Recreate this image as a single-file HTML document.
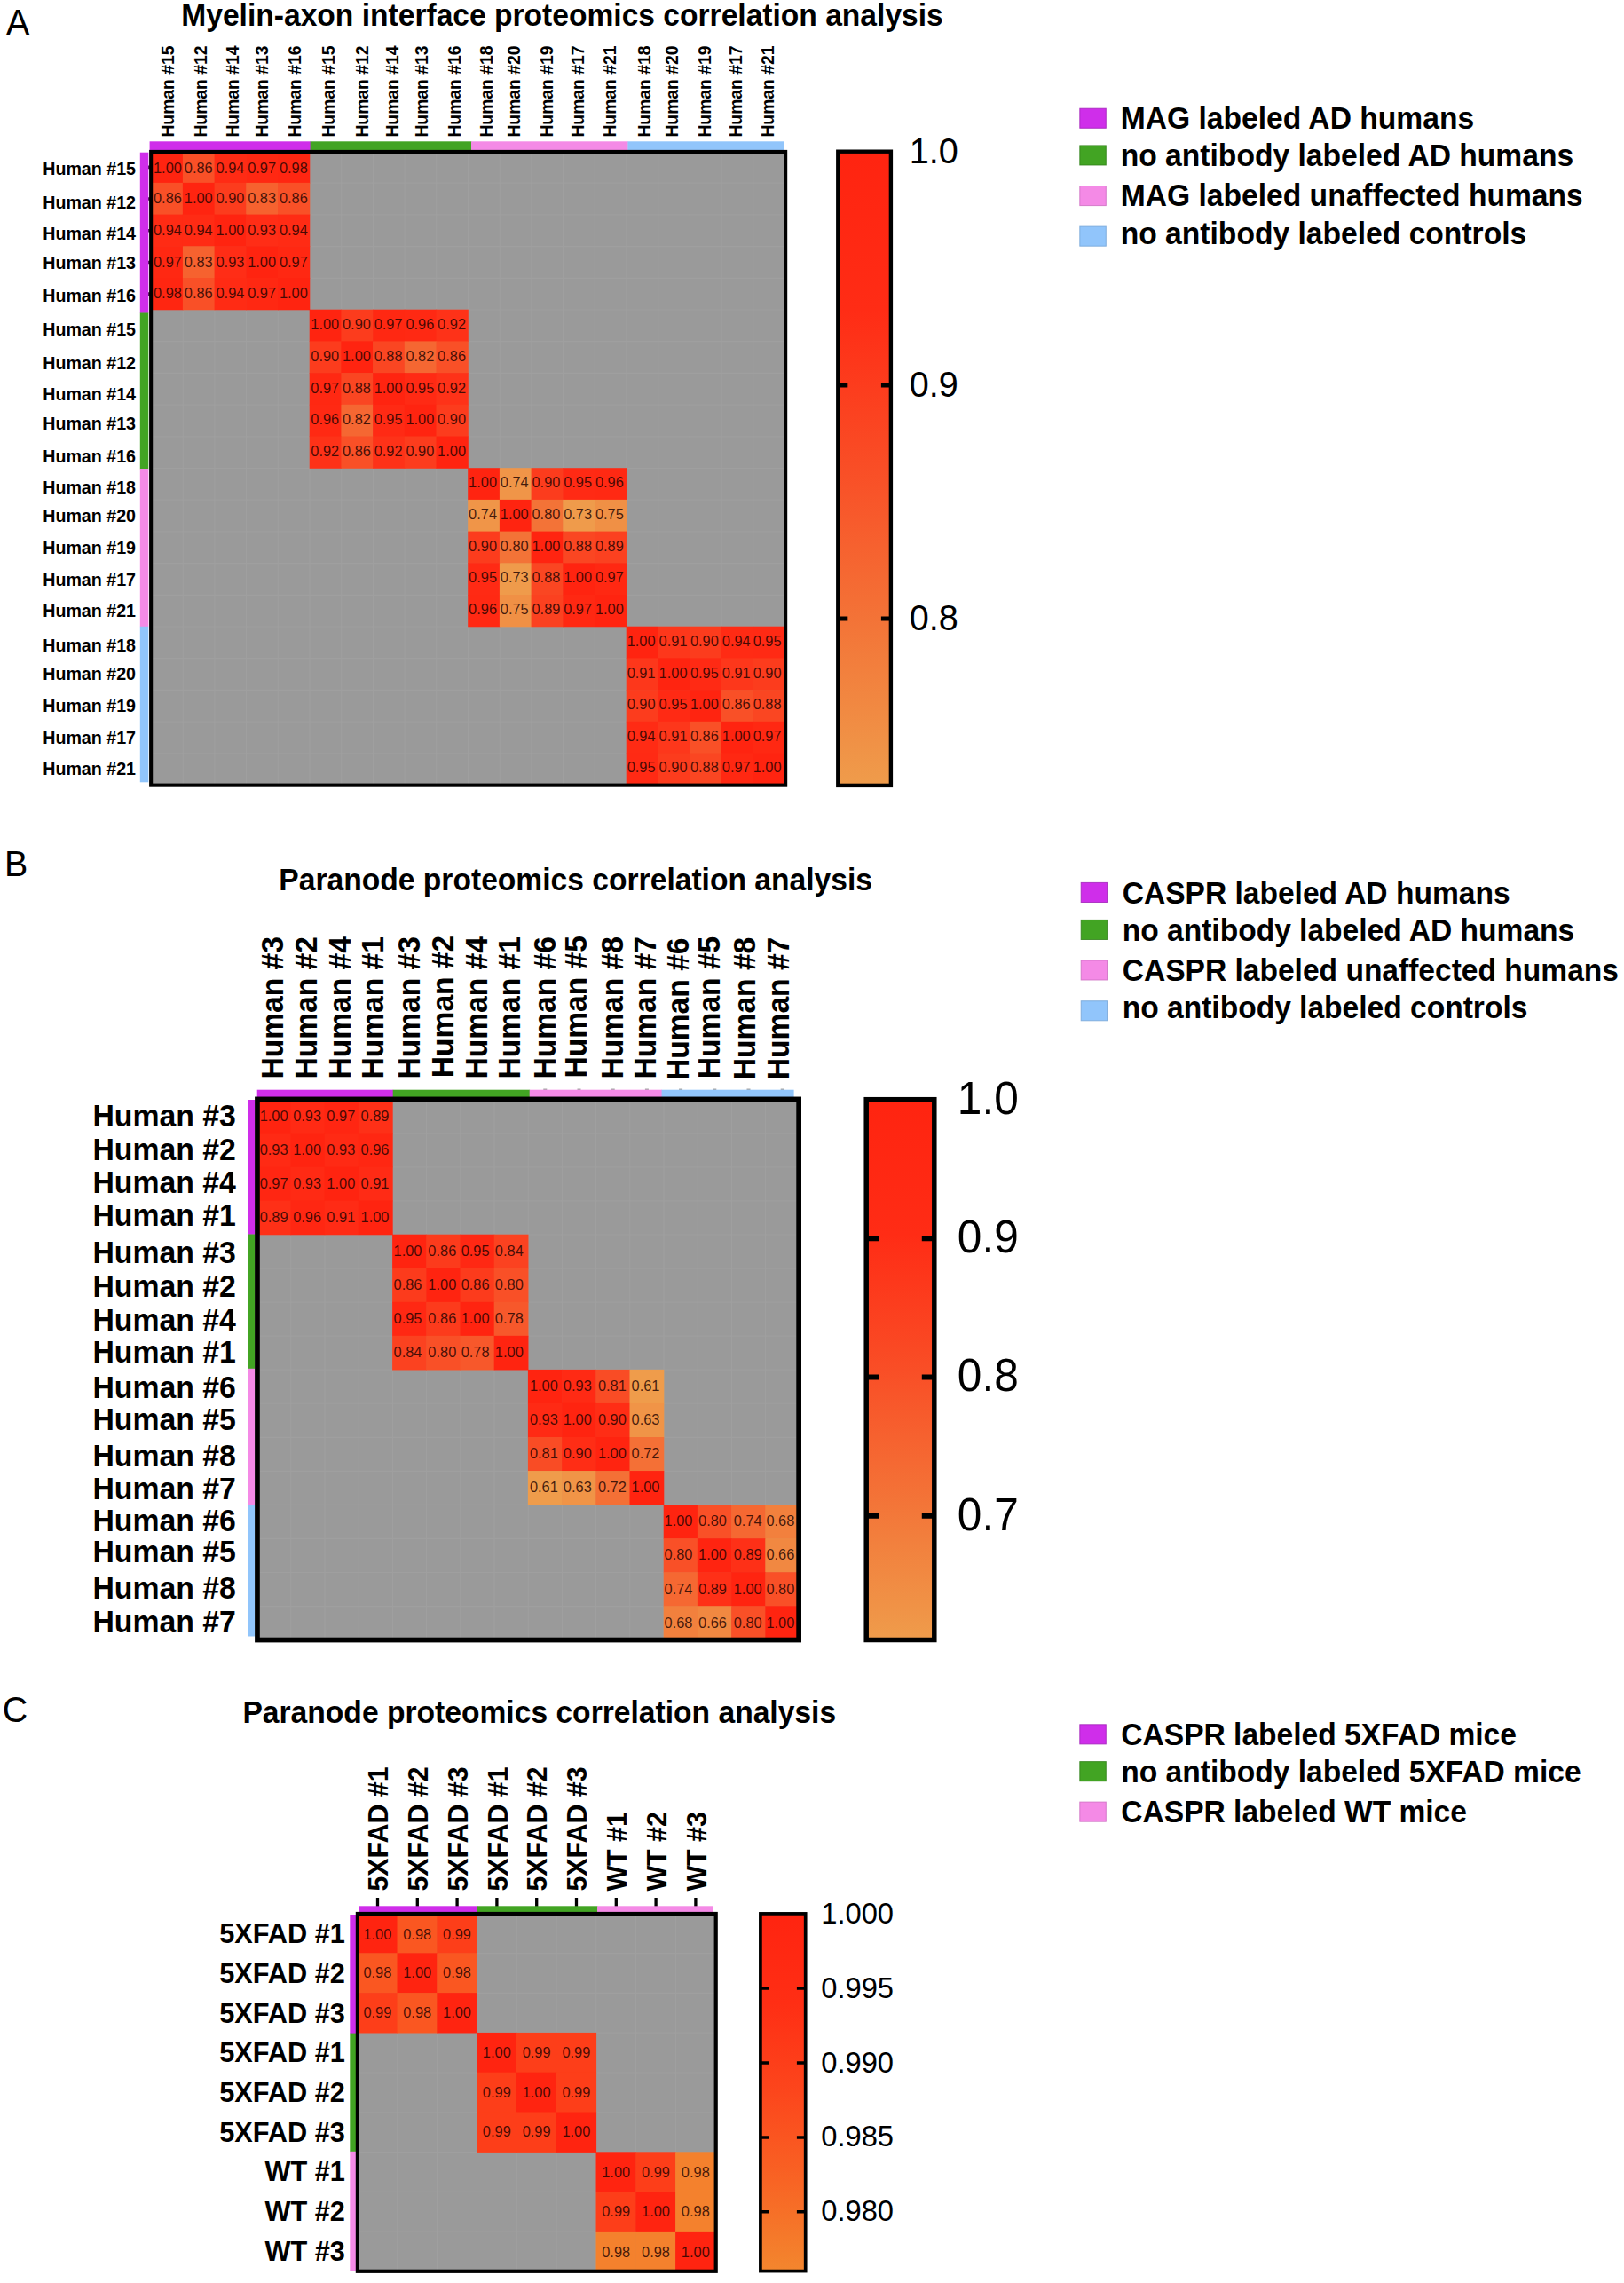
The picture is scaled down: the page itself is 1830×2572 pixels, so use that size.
<!DOCTYPE html>
<html lang="en"><head><meta charset="utf-8"><title>Proteomics correlation analysis</title>
<style>html,body{margin:0;padding:0;background:#fff}svg{display:block}text{white-space:pre}</style></head>
<body>
<svg width="1830" height="2572" viewBox="0 0 1830 2572" font-family="'Liberation Sans', sans-serif">
<rect width="1830" height="2572" fill="#fff"/>
<text transform="translate(7 39) scale(1 1.0377)" font-size="39.4">A</text>
<text transform="translate(204.3 29.2) scale(1 1.0377)" font-size="33.59" font-weight="bold">Myelin-axon interface proteomics correlation analysis</text>
<g font-size="19.35" font-weight="bold">
<text transform="translate(195.8 154.6) rotate(-90) scale(1 1.0377)">Human #15</text>
<text transform="translate(233.4 154.6) rotate(-90) scale(1 1.0377)">Human #12</text>
<text transform="translate(268.7 154.6) rotate(-90) scale(1 1.0377)">Human #14</text>
<text transform="translate(301.7 154.6) rotate(-90) scale(1 1.0377)">Human #13</text>
<text transform="translate(339.3 154.6) rotate(-90) scale(1 1.0377)">Human #16</text>
<text transform="translate(376.9 154.6) rotate(-90) scale(1 1.0377)">Human #15</text>
<text transform="translate(414.5 154.6) rotate(-90) scale(1 1.0377)">Human #12</text>
<text transform="translate(448.7 154.6) rotate(-90) scale(1 1.0377)">Human #14</text>
<text transform="translate(481.7 154.6) rotate(-90) scale(1 1.0377)">Human #13</text>
<text transform="translate(518.8 154.6) rotate(-90) scale(1 1.0377)">Human #16</text>
<text transform="translate(554.6 154.6) rotate(-90) scale(1 1.0377)">Human #18</text>
<text transform="translate(586.1 154.6) rotate(-90) scale(1 1.0377)">Human #20</text>
<text transform="translate(622.5 154.6) rotate(-90) scale(1 1.0377)">Human #19</text>
<text transform="translate(658.3 154.6) rotate(-90) scale(1 1.0377)">Human #17</text>
<text transform="translate(693.6 154.6) rotate(-90) scale(1 1.0377)">Human #21</text>
<text transform="translate(732.8 154.6) rotate(-90) scale(1 1.0377)">Human #18</text>
<text transform="translate(764.2 154.6) rotate(-90) scale(1 1.0377)">Human #20</text>
<text transform="translate(800.7 154.6) rotate(-90) scale(1 1.0377)">Human #19</text>
<text transform="translate(836 154.6) rotate(-90) scale(1 1.0377)">Human #17</text>
<text transform="translate(871.8 154.6) rotate(-90) scale(1 1.0377)">Human #21</text>
<text transform="translate(153 197) scale(1 1.0377)" font-size="19.65" text-anchor="end">Human #15</text>
<text transform="translate(153 234.5) scale(1 1.0377)" font-size="19.65" text-anchor="end">Human #12</text>
<text transform="translate(153 270.3) scale(1 1.0377)" font-size="19.65" text-anchor="end">Human #14</text>
<text transform="translate(153 303.1) scale(1 1.0377)" font-size="19.65" text-anchor="end">Human #13</text>
<text transform="translate(153 340.3) scale(1 1.0377)" font-size="19.65" text-anchor="end">Human #16</text>
<text transform="translate(153 378.1) scale(1 1.0377)" font-size="19.65" text-anchor="end">Human #15</text>
<text transform="translate(153 416.1) scale(1 1.0377)" font-size="19.65" text-anchor="end">Human #12</text>
<text transform="translate(153 451.1) scale(1 1.0377)" font-size="19.65" text-anchor="end">Human #14</text>
<text transform="translate(153 484) scale(1 1.0377)" font-size="19.65" text-anchor="end">Human #13</text>
<text transform="translate(153 521.1) scale(1 1.0377)" font-size="19.65" text-anchor="end">Human #16</text>
<text transform="translate(153 555.8) scale(1 1.0377)" font-size="19.65" text-anchor="end">Human #18</text>
<text transform="translate(153 587.8) scale(1 1.0377)" font-size="19.65" text-anchor="end">Human #20</text>
<text transform="translate(153 624) scale(1 1.0377)" font-size="19.65" text-anchor="end">Human #19</text>
<text transform="translate(153 660) scale(1 1.0377)" font-size="19.65" text-anchor="end">Human #17</text>
<text transform="translate(153 695.3) scale(1 1.0377)" font-size="19.65" text-anchor="end">Human #21</text>
<text transform="translate(153 734.1) scale(1 1.0377)" font-size="19.65" text-anchor="end">Human #18</text>
<text transform="translate(153 766.1) scale(1 1.0377)" font-size="19.65" text-anchor="end">Human #20</text>
<text transform="translate(153 802.3) scale(1 1.0377)" font-size="19.65" text-anchor="end">Human #19</text>
<text transform="translate(153 837.8) scale(1 1.0377)" font-size="19.65" text-anchor="end">Human #17</text>
<text transform="translate(153 873.1) scale(1 1.0377)" font-size="19.65" text-anchor="end">Human #21</text>
</g>
<path d="M167 188.35h1.6M167 224.05h1.6M167 259.75h1.6M167 295.45h1.6M167 331.15h1.6" stroke="#2a0a30" stroke-width="3.6" fill="none"/>
<rect x="170.5" y="170.5" width="714" height="714" fill="#9a9a9a"/>
<path d="M206.2 170.5V884.5M170.5 206.2H884.5M241.9 170.5V884.5M170.5 241.9H884.5M277.6 170.5V884.5M170.5 277.6H884.5M313.3 170.5V884.5M170.5 313.3H884.5M349 170.5V884.5M170.5 349H884.5M384.7 170.5V884.5M170.5 384.7H884.5M420.4 170.5V884.5M170.5 420.4H884.5M456.1 170.5V884.5M170.5 456.1H884.5M491.8 170.5V884.5M170.5 491.8H884.5M527.5 170.5V884.5M170.5 527.5H884.5M563.2 170.5V884.5M170.5 563.2H884.5M598.9 170.5V884.5M170.5 598.9H884.5M634.6 170.5V884.5M170.5 634.6H884.5M670.3 170.5V884.5M170.5 670.3H884.5M706 170.5V884.5M170.5 706H884.5M741.7 170.5V884.5M170.5 741.7H884.5M777.4 170.5V884.5M170.5 777.4H884.5M813.1 170.5V884.5M170.5 813.1H884.5M848.8 170.5V884.5M170.5 848.8H884.5" stroke="#fff" stroke-opacity=".055" stroke-width="1.2" fill="none"/>
<rect x="170.2" y="170.2" width="36.3" height="36.3" fill="#ff2410"/>
<rect x="205.9" y="170.2" width="36.3" height="36.3" fill="#f95027"/>
<rect x="241.6" y="170.2" width="36.3" height="36.3" fill="#ff2b14"/>
<rect x="277.3" y="170.2" width="36.3" height="36.3" fill="#ff2812"/>
<rect x="313" y="170.2" width="36.3" height="36.3" fill="#ff2611"/>
<rect x="170.2" y="205.9" width="36.3" height="36.3" fill="#f95027"/>
<rect x="205.9" y="205.9" width="36.3" height="36.3" fill="#ff2410"/>
<rect x="241.6" y="205.9" width="36.3" height="36.3" fill="#fc3c1d"/>
<rect x="277.3" y="205.9" width="36.3" height="36.3" fill="#f6622f"/>
<rect x="313" y="205.9" width="36.3" height="36.3" fill="#f95027"/>
<rect x="170.2" y="241.6" width="36.3" height="36.3" fill="#ff2b14"/>
<rect x="205.9" y="241.6" width="36.3" height="36.3" fill="#ff2b14"/>
<rect x="241.6" y="241.6" width="36.3" height="36.3" fill="#ff2410"/>
<rect x="277.3" y="241.6" width="36.3" height="36.3" fill="#ff2d16"/>
<rect x="313" y="241.6" width="36.3" height="36.3" fill="#ff2b14"/>
<rect x="170.2" y="277.3" width="36.3" height="36.3" fill="#ff2812"/>
<rect x="205.9" y="277.3" width="36.3" height="36.3" fill="#f6622f"/>
<rect x="241.6" y="277.3" width="36.3" height="36.3" fill="#ff2d16"/>
<rect x="277.3" y="277.3" width="36.3" height="36.3" fill="#ff2410"/>
<rect x="313" y="277.3" width="36.3" height="36.3" fill="#ff2812"/>
<rect x="170.2" y="313" width="36.3" height="36.3" fill="#ff2611"/>
<rect x="205.9" y="313" width="36.3" height="36.3" fill="#f95027"/>
<rect x="241.6" y="313" width="36.3" height="36.3" fill="#ff2b14"/>
<rect x="277.3" y="313" width="36.3" height="36.3" fill="#ff2812"/>
<rect x="313" y="313" width="36.3" height="36.3" fill="#ff2410"/>
<rect x="348.7" y="348.7" width="36.3" height="36.3" fill="#ff2410"/>
<rect x="384.4" y="348.7" width="36.3" height="36.3" fill="#fc3c1d"/>
<rect x="420.1" y="348.7" width="36.3" height="36.3" fill="#ff2812"/>
<rect x="455.8" y="348.7" width="36.3" height="36.3" fill="#ff2913"/>
<rect x="491.5" y="348.7" width="36.3" height="36.3" fill="#fe3218"/>
<rect x="348.7" y="384.4" width="36.3" height="36.3" fill="#fc3c1d"/>
<rect x="384.4" y="384.4" width="36.3" height="36.3" fill="#ff2410"/>
<rect x="420.1" y="384.4" width="36.3" height="36.3" fill="#fa4622"/>
<rect x="455.8" y="384.4" width="36.3" height="36.3" fill="#f56732"/>
<rect x="491.5" y="384.4" width="36.3" height="36.3" fill="#f95027"/>
<rect x="348.7" y="420.1" width="36.3" height="36.3" fill="#ff2812"/>
<rect x="384.4" y="420.1" width="36.3" height="36.3" fill="#fa4622"/>
<rect x="420.1" y="420.1" width="36.3" height="36.3" fill="#ff2410"/>
<rect x="455.8" y="420.1" width="36.3" height="36.3" fill="#ff2a14"/>
<rect x="491.5" y="420.1" width="36.3" height="36.3" fill="#fe3218"/>
<rect x="348.7" y="455.8" width="36.3" height="36.3" fill="#ff2913"/>
<rect x="384.4" y="455.8" width="36.3" height="36.3" fill="#f56732"/>
<rect x="420.1" y="455.8" width="36.3" height="36.3" fill="#ff2a14"/>
<rect x="455.8" y="455.8" width="36.3" height="36.3" fill="#ff2410"/>
<rect x="491.5" y="455.8" width="36.3" height="36.3" fill="#fc3c1d"/>
<rect x="348.7" y="491.5" width="36.3" height="36.3" fill="#fe3218"/>
<rect x="384.4" y="491.5" width="36.3" height="36.3" fill="#f95027"/>
<rect x="420.1" y="491.5" width="36.3" height="36.3" fill="#fe3218"/>
<rect x="455.8" y="491.5" width="36.3" height="36.3" fill="#fc3c1d"/>
<rect x="491.5" y="491.5" width="36.3" height="36.3" fill="#ff2410"/>
<rect x="527.2" y="527.2" width="36.3" height="36.3" fill="#ff2410"/>
<rect x="562.9" y="527.2" width="36.3" height="36.3" fill="#f09548"/>
<rect x="598.6" y="527.2" width="36.3" height="36.3" fill="#fc3c1d"/>
<rect x="634.3" y="527.2" width="36.3" height="36.3" fill="#ff2a14"/>
<rect x="670" y="527.2" width="36.3" height="36.3" fill="#ff2913"/>
<rect x="527.2" y="562.9" width="36.3" height="36.3" fill="#f09548"/>
<rect x="562.9" y="562.9" width="36.3" height="36.3" fill="#ff2410"/>
<rect x="598.6" y="562.9" width="36.3" height="36.3" fill="#f37337"/>
<rect x="634.3" y="562.9" width="36.3" height="36.3" fill="#ef9b4b"/>
<rect x="670" y="562.9" width="36.3" height="36.3" fill="#f09045"/>
<rect x="527.2" y="598.6" width="36.3" height="36.3" fill="#fc3c1d"/>
<rect x="562.9" y="598.6" width="36.3" height="36.3" fill="#f37337"/>
<rect x="598.6" y="598.6" width="36.3" height="36.3" fill="#ff2410"/>
<rect x="634.3" y="598.6" width="36.3" height="36.3" fill="#fa4622"/>
<rect x="670" y="598.6" width="36.3" height="36.3" fill="#fb4120"/>
<rect x="527.2" y="634.3" width="36.3" height="36.3" fill="#ff2a14"/>
<rect x="562.9" y="634.3" width="36.3" height="36.3" fill="#ef9b4b"/>
<rect x="598.6" y="634.3" width="36.3" height="36.3" fill="#fa4622"/>
<rect x="634.3" y="634.3" width="36.3" height="36.3" fill="#ff2410"/>
<rect x="670" y="634.3" width="36.3" height="36.3" fill="#ff2812"/>
<rect x="527.2" y="670" width="36.3" height="36.3" fill="#ff2913"/>
<rect x="562.9" y="670" width="36.3" height="36.3" fill="#f09045"/>
<rect x="598.6" y="670" width="36.3" height="36.3" fill="#fb4120"/>
<rect x="634.3" y="670" width="36.3" height="36.3" fill="#ff2812"/>
<rect x="670" y="670" width="36.3" height="36.3" fill="#ff2410"/>
<rect x="705.7" y="705.7" width="36.3" height="36.3" fill="#ff2410"/>
<rect x="741.4" y="705.7" width="36.3" height="36.3" fill="#fd371b"/>
<rect x="777.1" y="705.7" width="36.3" height="36.3" fill="#fc3c1d"/>
<rect x="812.8" y="705.7" width="36.3" height="36.3" fill="#ff2b14"/>
<rect x="848.5" y="705.7" width="36.3" height="36.3" fill="#ff2a14"/>
<rect x="705.7" y="741.4" width="36.3" height="36.3" fill="#fd371b"/>
<rect x="741.4" y="741.4" width="36.3" height="36.3" fill="#ff2410"/>
<rect x="777.1" y="741.4" width="36.3" height="36.3" fill="#ff2a14"/>
<rect x="812.8" y="741.4" width="36.3" height="36.3" fill="#fd371b"/>
<rect x="848.5" y="741.4" width="36.3" height="36.3" fill="#fc3c1d"/>
<rect x="705.7" y="777.1" width="36.3" height="36.3" fill="#fc3c1d"/>
<rect x="741.4" y="777.1" width="36.3" height="36.3" fill="#ff2a14"/>
<rect x="777.1" y="777.1" width="36.3" height="36.3" fill="#ff2410"/>
<rect x="812.8" y="777.1" width="36.3" height="36.3" fill="#f95027"/>
<rect x="848.5" y="777.1" width="36.3" height="36.3" fill="#fa4622"/>
<rect x="705.7" y="812.8" width="36.3" height="36.3" fill="#ff2b14"/>
<rect x="741.4" y="812.8" width="36.3" height="36.3" fill="#fd371b"/>
<rect x="777.1" y="812.8" width="36.3" height="36.3" fill="#f95027"/>
<rect x="812.8" y="812.8" width="36.3" height="36.3" fill="#ff2410"/>
<rect x="848.5" y="812.8" width="36.3" height="36.3" fill="#ff2812"/>
<rect x="705.7" y="848.5" width="36.3" height="36.3" fill="#ff2a14"/>
<rect x="741.4" y="848.5" width="36.3" height="36.3" fill="#fc3c1d"/>
<rect x="777.1" y="848.5" width="36.3" height="36.3" fill="#fa4622"/>
<rect x="812.8" y="848.5" width="36.3" height="36.3" fill="#ff2812"/>
<rect x="848.5" y="848.5" width="36.3" height="36.3" fill="#ff2410"/>
<g font-size="16.4" fill="#1c0200" fill-opacity=".82" text-anchor="middle">
<text transform="translate(188.95 195.35) scale(1 1.0377)">1.00</text>
<text transform="translate(223.75 195.35) scale(1 1.0377)">0.86</text>
<text transform="translate(259.45 195.35) scale(1 1.0377)">0.94</text>
<text transform="translate(295.15 195.35) scale(1 1.0377)">0.97</text>
<text transform="translate(330.85 195.35) scale(1 1.0377)">0.98</text>
<text transform="translate(188.95 229.05) scale(1 1.0377)">0.86</text>
<text transform="translate(223.75 229.05) scale(1 1.0377)">1.00</text>
<text transform="translate(259.45 229.05) scale(1 1.0377)">0.90</text>
<text transform="translate(295.15 229.05) scale(1 1.0377)">0.83</text>
<text transform="translate(330.85 229.05) scale(1 1.0377)">0.86</text>
<text transform="translate(188.95 264.75) scale(1 1.0377)">0.94</text>
<text transform="translate(223.75 264.75) scale(1 1.0377)">0.94</text>
<text transform="translate(259.45 264.75) scale(1 1.0377)">1.00</text>
<text transform="translate(295.15 264.75) scale(1 1.0377)">0.93</text>
<text transform="translate(330.85 264.75) scale(1 1.0377)">0.94</text>
<text transform="translate(188.95 300.55) scale(1 1.0377)">0.97</text>
<text transform="translate(223.75 300.55) scale(1 1.0377)">0.83</text>
<text transform="translate(259.45 300.55) scale(1 1.0377)">0.93</text>
<text transform="translate(295.15 300.55) scale(1 1.0377)">1.00</text>
<text transform="translate(330.85 300.55) scale(1 1.0377)">0.97</text>
<text transform="translate(188.95 336.35) scale(1 1.0377)">0.98</text>
<text transform="translate(223.75 336.35) scale(1 1.0377)">0.86</text>
<text transform="translate(259.45 336.35) scale(1 1.0377)">0.94</text>
<text transform="translate(295.15 336.35) scale(1 1.0377)">0.97</text>
<text transform="translate(330.85 336.35) scale(1 1.0377)">1.00</text>
<text transform="translate(366.25 371.45) scale(1 1.0377)">1.00</text>
<text transform="translate(401.95 371.45) scale(1 1.0377)">0.90</text>
<text transform="translate(437.65 371.45) scale(1 1.0377)">0.97</text>
<text transform="translate(473.35 371.45) scale(1 1.0377)">0.96</text>
<text transform="translate(509.05 371.45) scale(1 1.0377)">0.92</text>
<text transform="translate(366.25 407.05) scale(1 1.0377)">0.90</text>
<text transform="translate(401.95 407.05) scale(1 1.0377)">1.00</text>
<text transform="translate(437.65 407.05) scale(1 1.0377)">0.88</text>
<text transform="translate(473.35 407.05) scale(1 1.0377)">0.82</text>
<text transform="translate(509.05 407.05) scale(1 1.0377)">0.86</text>
<text transform="translate(366.25 442.75) scale(1 1.0377)">0.97</text>
<text transform="translate(401.95 442.75) scale(1 1.0377)">0.88</text>
<text transform="translate(437.65 442.75) scale(1 1.0377)">1.00</text>
<text transform="translate(473.35 442.75) scale(1 1.0377)">0.95</text>
<text transform="translate(509.05 442.75) scale(1 1.0377)">0.92</text>
<text transform="translate(366.25 478.45) scale(1 1.0377)">0.96</text>
<text transform="translate(401.95 478.45) scale(1 1.0377)">0.82</text>
<text transform="translate(437.65 478.45) scale(1 1.0377)">0.95</text>
<text transform="translate(473.35 478.45) scale(1 1.0377)">1.00</text>
<text transform="translate(509.05 478.45) scale(1 1.0377)">0.90</text>
<text transform="translate(366.25 514.25) scale(1 1.0377)">0.92</text>
<text transform="translate(401.95 514.25) scale(1 1.0377)">0.86</text>
<text transform="translate(437.65 514.25) scale(1 1.0377)">0.92</text>
<text transform="translate(473.35 514.25) scale(1 1.0377)">0.90</text>
<text transform="translate(509.05 514.25) scale(1 1.0377)">1.00</text>
<text transform="translate(544.05 549.45) scale(1 1.0377)">1.00</text>
<text transform="translate(579.75 549.45) scale(1 1.0377)">0.74</text>
<text transform="translate(615.45 549.45) scale(1 1.0377)">0.90</text>
<text transform="translate(651.15 549.45) scale(1 1.0377)">0.95</text>
<text transform="translate(686.85 549.45) scale(1 1.0377)">0.96</text>
<text transform="translate(544.05 585.15) scale(1 1.0377)">0.74</text>
<text transform="translate(579.75 585.15) scale(1 1.0377)">1.00</text>
<text transform="translate(615.45 585.15) scale(1 1.0377)">0.80</text>
<text transform="translate(651.15 585.15) scale(1 1.0377)">0.73</text>
<text transform="translate(686.85 585.15) scale(1 1.0377)">0.75</text>
<text transform="translate(544.05 620.75) scale(1 1.0377)">0.90</text>
<text transform="translate(579.75 620.75) scale(1 1.0377)">0.80</text>
<text transform="translate(615.45 620.75) scale(1 1.0377)">1.00</text>
<text transform="translate(651.15 620.75) scale(1 1.0377)">0.88</text>
<text transform="translate(686.85 620.75) scale(1 1.0377)">0.89</text>
<text transform="translate(544.05 656.35) scale(1 1.0377)">0.95</text>
<text transform="translate(579.75 656.35) scale(1 1.0377)">0.73</text>
<text transform="translate(615.45 656.35) scale(1 1.0377)">0.88</text>
<text transform="translate(651.15 656.35) scale(1 1.0377)">1.00</text>
<text transform="translate(686.85 656.35) scale(1 1.0377)">0.97</text>
<text transform="translate(544.05 692.15) scale(1 1.0377)">0.96</text>
<text transform="translate(579.75 692.15) scale(1 1.0377)">0.75</text>
<text transform="translate(615.45 692.15) scale(1 1.0377)">0.89</text>
<text transform="translate(651.15 692.15) scale(1 1.0377)">0.97</text>
<text transform="translate(686.85 692.15) scale(1 1.0377)">1.00</text>
<text transform="translate(722.65 727.95) scale(1 1.0377)">1.00</text>
<text transform="translate(758.55 727.95) scale(1 1.0377)">0.91</text>
<text transform="translate(793.85 727.95) scale(1 1.0377)">0.90</text>
<text transform="translate(829.75 727.95) scale(1 1.0377)">0.94</text>
<text transform="translate(864.65 727.95) scale(1 1.0377)">0.95</text>
<text transform="translate(722.65 763.65) scale(1 1.0377)">0.91</text>
<text transform="translate(758.55 763.65) scale(1 1.0377)">1.00</text>
<text transform="translate(793.85 763.65) scale(1 1.0377)">0.95</text>
<text transform="translate(829.75 763.65) scale(1 1.0377)">0.91</text>
<text transform="translate(864.65 763.65) scale(1 1.0377)">0.90</text>
<text transform="translate(722.65 799.25) scale(1 1.0377)">0.90</text>
<text transform="translate(758.55 799.25) scale(1 1.0377)">0.95</text>
<text transform="translate(793.85 799.25) scale(1 1.0377)">1.00</text>
<text transform="translate(829.75 799.25) scale(1 1.0377)">0.86</text>
<text transform="translate(864.65 799.25) scale(1 1.0377)">0.88</text>
<text transform="translate(722.65 834.65) scale(1 1.0377)">0.94</text>
<text transform="translate(758.55 834.65) scale(1 1.0377)">0.91</text>
<text transform="translate(793.85 834.65) scale(1 1.0377)">0.86</text>
<text transform="translate(829.75 834.65) scale(1 1.0377)">1.00</text>
<text transform="translate(864.65 834.65) scale(1 1.0377)">0.97</text>
<text transform="translate(722.65 870.35) scale(1 1.0377)">0.95</text>
<text transform="translate(758.55 870.35) scale(1 1.0377)">0.90</text>
<text transform="translate(793.85 870.35) scale(1 1.0377)">0.88</text>
<text transform="translate(829.75 870.35) scale(1 1.0377)">0.97</text>
<text transform="translate(864.65 870.35) scale(1 1.0377)">1.00</text>
</g>
<rect x="168.6" y="159.3" width="181.4" height="10.4" fill="#cf2eea"/>
<rect x="349.6" y="159.3" width="181.8" height="10.4" fill="#42a423"/>
<rect x="531" y="159.3" width="176.8" height="10.4" fill="#f48ae6"/>
<rect x="707.4" y="159.3" width="175.8" height="10.4" fill="#91c5fb"/>
<rect x="157.8" y="171.7" width="9.5" height="181.2" fill="#cf2eea"/>
<rect x="157.8" y="352.5" width="9.5" height="175.9" fill="#42a423"/>
<rect x="157.8" y="528" width="9.5" height="178.2" fill="#f48ae6"/>
<rect x="157.8" y="705.8" width="9.5" height="175.5" fill="#91c5fb"/>
<rect x="170.15" y="170.95" width="715" height="713.7" fill="none" stroke="#000" stroke-width="4.1"/>
<linearGradient id="ga" x1="0" y1="0" x2="0" y2="1"><stop offset="0" stop-color="#ff2410"/><stop offset="0.25" stop-color="#ff2c15"/><stop offset="0.5" stop-color="#f94e26"/><stop offset="0.75" stop-color="#f37538"/><stop offset="1" stop-color="#ef9c4b"/></linearGradient>
<rect x="944.3" y="170.7" width="59.6" height="714.2" fill="url(#ga)" stroke="#000" stroke-width="4.4"/>
<path d="M944.3 434h11M1003.9 434h-11M944.3 697.1h11M1003.9 697.1h-11" stroke="#000" stroke-width="5" fill="none"/>
<text transform="translate(1024.7 183.7) scale(1 1.0377)" font-size="39.6">1.0</text>
<text transform="translate(1024.7 446.7) scale(1 1.0377)" font-size="39.6">0.9</text>
<text transform="translate(1024.7 709.8) scale(1 1.0377)" font-size="39.6">0.8</text>
<rect x="1216.8" y="122.2" width="29.5" height="22.1" fill="#cf2eea" stroke="#a01fb8" stroke-width="1" stroke-opacity=".8"/>
<text transform="translate(1262.7 145) scale(1 1.0377)" font-size="33.62" font-weight="bold">MAG labeled AD humans</text>
<rect x="1216.8" y="163.9" width="29.5" height="22.1" fill="#42a423" stroke="#2f7f18" stroke-width="1" stroke-opacity=".8"/>
<text transform="translate(1262.7 186.6) scale(1 1.0377)" font-size="33.62" font-weight="bold">no antibody labeled AD humans</text>
<rect x="1216.8" y="209.5" width="29.5" height="22.1" fill="#f48ae6" stroke="#cc6cc0" stroke-width="1" stroke-opacity=".8"/>
<text transform="translate(1262.7 231.8) scale(1 1.0377)" font-size="33.62" font-weight="bold">MAG labeled unaffected humans</text>
<rect x="1216.8" y="255.1" width="29.5" height="22.1" fill="#91c5fb" stroke="#74a4d6" stroke-width="1" stroke-opacity=".8"/>
<text transform="translate(1262.7 274.9) scale(1 1.0377)" font-size="33.62" font-weight="bold">no antibody labeled controls</text>
<text transform="translate(5 986.9) scale(1 1.0377)" font-size="39.4">B</text>
<text transform="translate(314.3 1002.9) scale(1 1.0377)" font-size="33.63" font-weight="bold">Paranode proteomics correlation analysis</text>
<g font-size="33.6" font-weight="bold">
<text transform="translate(318.8 1215.6) rotate(-90) scale(1 1.0377)">Human #3</text>
<text transform="translate(357 1215.6) rotate(-90) scale(1 1.0377)">Human #2</text>
<text transform="translate(394.6 1215.6) rotate(-90) scale(1 1.0377)">Human #4</text>
<text transform="translate(431.6 1215.6) rotate(-90) scale(1 1.0377)">Human #1</text>
<text transform="translate(473.2 1215.6) rotate(-90) scale(1 1.0377)">Human #3</text>
<text transform="translate(511.2 1214.2) rotate(-90) scale(1 1.0377)">Human #2</text>
<text transform="translate(549.4 1215.6) rotate(-90) scale(1 1.0377)">Human #4</text>
<text transform="translate(585.6 1215.6) rotate(-90) scale(1 1.0377)">Human #1</text>
<text transform="translate(625.7 1215.6) rotate(-90) scale(1 1.0377)">Human #6</text>
<text transform="translate(661.3 1214.6) rotate(-90) scale(1 1.0377)">Human #5</text>
<text transform="translate(701.9 1215.6) rotate(-90) scale(1 1.0377)">Human #8</text>
<text transform="translate(738.9 1215.6) rotate(-90) scale(1 1.0377)">Human #7</text>
<text transform="translate(775.5 1217) rotate(-90) scale(1 1.0377)">Human #6</text>
<text transform="translate(810.6 1215.2) rotate(-90) scale(1 1.0377)">Human #5</text>
<text transform="translate(851.3 1216.2) rotate(-90) scale(1 1.0377)">Human #8</text>
<text transform="translate(889.3 1216.2) rotate(-90) scale(1 1.0377)">Human #7</text>
<text transform="translate(265.9 1268.5) scale(1 1.0377)" font-size="33.8" text-anchor="end">Human #3</text>
<text transform="translate(265.9 1306.7) scale(1 1.0377)" font-size="33.8" text-anchor="end">Human #2</text>
<text transform="translate(265.9 1344.3) scale(1 1.0377)" font-size="33.8" text-anchor="end">Human #4</text>
<text transform="translate(265.9 1381.3) scale(1 1.0377)" font-size="33.8" text-anchor="end">Human #1</text>
<text transform="translate(265.9 1422.9) scale(1 1.0377)" font-size="33.8" text-anchor="end">Human #3</text>
<text transform="translate(265.9 1460.9) scale(1 1.0377)" font-size="33.8" text-anchor="end">Human #2</text>
<text transform="translate(265.9 1499.1) scale(1 1.0377)" font-size="33.8" text-anchor="end">Human #4</text>
<text transform="translate(265.9 1535.3) scale(1 1.0377)" font-size="33.8" text-anchor="end">Human #1</text>
<text transform="translate(265.9 1575.4) scale(1 1.0377)" font-size="33.8" text-anchor="end">Human #6</text>
<text transform="translate(265.9 1611) scale(1 1.0377)" font-size="33.8" text-anchor="end">Human #5</text>
<text transform="translate(265.9 1651.6) scale(1 1.0377)" font-size="33.8" text-anchor="end">Human #8</text>
<text transform="translate(265.9 1688.6) scale(1 1.0377)" font-size="33.8" text-anchor="end">Human #7</text>
<text transform="translate(265.9 1725.2) scale(1 1.0377)" font-size="33.8" text-anchor="end">Human #6</text>
<text transform="translate(265.9 1760.3) scale(1 1.0377)" font-size="33.8" text-anchor="end">Human #5</text>
<text transform="translate(265.9 1801) scale(1 1.0377)" font-size="33.8" text-anchor="end">Human #8</text>
<text transform="translate(265.9 1839) scale(1 1.0377)" font-size="33.8" text-anchor="end">Human #7</text>
</g>
<path d="M614.3 1226.6v1.6M652.5 1226.6v1.6M690.7 1226.6v1.6M728.9 1226.6v1.6M767.1 1226.6v1.6M805.3 1226.6v1.6M843.5 1226.6v1.6M881.7 1226.6v1.6" stroke="#000" stroke-width="4" fill="none" stroke-opacity=".35"/>
<rect x="289.6" y="1238.8" width="611.2" height="608.8" fill="#9a9a9a"/>
<path d="M327.8 1238.8V1847.6M289.6 1276.85H900.8M366 1238.8V1847.6M289.6 1314.9H900.8M404.2 1238.8V1847.6M289.6 1352.95H900.8M442.4 1238.8V1847.6M289.6 1391H900.8M480.6 1238.8V1847.6M289.6 1429.05H900.8M518.8 1238.8V1847.6M289.6 1467.1H900.8M557 1238.8V1847.6M289.6 1505.15H900.8M595.2 1238.8V1847.6M289.6 1543.2H900.8M633.4 1238.8V1847.6M289.6 1581.25H900.8M671.6 1238.8V1847.6M289.6 1619.3H900.8M709.8 1238.8V1847.6M289.6 1657.35H900.8M748 1238.8V1847.6M289.6 1695.4H900.8M786.2 1238.8V1847.6M289.6 1733.45H900.8M824.4 1238.8V1847.6M289.6 1771.5H900.8M862.6 1238.8V1847.6M289.6 1809.55H900.8" stroke="#fff" stroke-opacity=".055" stroke-width="1.2" fill="none"/>
<rect x="289.3" y="1238.5" width="38.8" height="38.65" fill="#ff2410"/>
<rect x="327.5" y="1238.5" width="38.8" height="38.65" fill="#ff2a14"/>
<rect x="365.7" y="1238.5" width="38.8" height="38.65" fill="#ff2612"/>
<rect x="403.9" y="1238.5" width="38.8" height="38.65" fill="#fe3017"/>
<rect x="289.3" y="1276.55" width="38.8" height="38.65" fill="#ff2a14"/>
<rect x="327.5" y="1276.55" width="38.8" height="38.65" fill="#ff2410"/>
<rect x="365.7" y="1276.55" width="38.8" height="38.65" fill="#ff2a14"/>
<rect x="403.9" y="1276.55" width="38.8" height="38.65" fill="#ff2712"/>
<rect x="289.3" y="1314.6" width="38.8" height="38.65" fill="#ff2612"/>
<rect x="327.5" y="1314.6" width="38.8" height="38.65" fill="#ff2a14"/>
<rect x="365.7" y="1314.6" width="38.8" height="38.65" fill="#ff2410"/>
<rect x="403.9" y="1314.6" width="38.8" height="38.65" fill="#ff2b15"/>
<rect x="289.3" y="1352.65" width="38.8" height="38.65" fill="#fe3017"/>
<rect x="327.5" y="1352.65" width="38.8" height="38.65" fill="#ff2712"/>
<rect x="365.7" y="1352.65" width="38.8" height="38.65" fill="#ff2b15"/>
<rect x="403.9" y="1352.65" width="38.8" height="38.65" fill="#ff2410"/>
<rect x="442.1" y="1390.7" width="38.8" height="38.65" fill="#ff2410"/>
<rect x="480.3" y="1390.7" width="38.8" height="38.65" fill="#fc3b1c"/>
<rect x="518.5" y="1390.7" width="38.8" height="38.65" fill="#ff2813"/>
<rect x="556.7" y="1390.7" width="38.8" height="38.65" fill="#fb4220"/>
<rect x="442.1" y="1428.75" width="38.8" height="38.65" fill="#fc3b1c"/>
<rect x="480.3" y="1428.75" width="38.8" height="38.65" fill="#ff2410"/>
<rect x="518.5" y="1428.75" width="38.8" height="38.65" fill="#fc3b1c"/>
<rect x="556.7" y="1428.75" width="38.8" height="38.65" fill="#f95027"/>
<rect x="442.1" y="1466.8" width="38.8" height="38.65" fill="#ff2813"/>
<rect x="480.3" y="1466.8" width="38.8" height="38.65" fill="#fc3b1c"/>
<rect x="518.5" y="1466.8" width="38.8" height="38.65" fill="#ff2410"/>
<rect x="556.7" y="1466.8" width="38.8" height="38.65" fill="#f7582b"/>
<rect x="442.1" y="1504.85" width="38.8" height="38.65" fill="#fb4220"/>
<rect x="480.3" y="1504.85" width="38.8" height="38.65" fill="#f95027"/>
<rect x="518.5" y="1504.85" width="38.8" height="38.65" fill="#f7582b"/>
<rect x="556.7" y="1504.85" width="38.8" height="38.65" fill="#ff2410"/>
<rect x="594.9" y="1542.9" width="38.8" height="38.65" fill="#ff2410"/>
<rect x="633.1" y="1542.9" width="38.8" height="38.65" fill="#ff2a14"/>
<rect x="671.3" y="1542.9" width="38.8" height="38.65" fill="#f94c25"/>
<rect x="709.5" y="1542.9" width="38.8" height="38.65" fill="#ef9c4b"/>
<rect x="594.9" y="1580.95" width="38.8" height="38.65" fill="#ff2a14"/>
<rect x="633.1" y="1580.95" width="38.8" height="38.65" fill="#ff2410"/>
<rect x="671.3" y="1580.95" width="38.8" height="38.65" fill="#ff2d15"/>
<rect x="709.5" y="1580.95" width="38.8" height="38.65" fill="#f09447"/>
<rect x="594.9" y="1619" width="38.8" height="38.65" fill="#f94c25"/>
<rect x="633.1" y="1619" width="38.8" height="38.65" fill="#ff2d15"/>
<rect x="671.3" y="1619" width="38.8" height="38.65" fill="#ff2410"/>
<rect x="709.5" y="1619" width="38.8" height="38.65" fill="#f47036"/>
<rect x="594.9" y="1657.05" width="38.8" height="38.65" fill="#ef9c4b"/>
<rect x="633.1" y="1657.05" width="38.8" height="38.65" fill="#f09447"/>
<rect x="671.3" y="1657.05" width="38.8" height="38.65" fill="#f47036"/>
<rect x="709.5" y="1657.05" width="38.8" height="38.65" fill="#ff2410"/>
<rect x="747.7" y="1695.1" width="38.8" height="38.65" fill="#ff2410"/>
<rect x="785.9" y="1695.1" width="38.8" height="38.65" fill="#f95027"/>
<rect x="824.1" y="1695.1" width="38.8" height="38.65" fill="#f56832"/>
<rect x="862.3" y="1695.1" width="38.8" height="38.65" fill="#f2803d"/>
<rect x="747.7" y="1733.15" width="38.8" height="38.65" fill="#f95027"/>
<rect x="785.9" y="1733.15" width="38.8" height="38.65" fill="#ff2410"/>
<rect x="824.1" y="1733.15" width="38.8" height="38.65" fill="#fe3017"/>
<rect x="862.3" y="1733.15" width="38.8" height="38.65" fill="#f18841"/>
<rect x="747.7" y="1771.2" width="38.8" height="38.65" fill="#f56832"/>
<rect x="785.9" y="1771.2" width="38.8" height="38.65" fill="#fe3017"/>
<rect x="824.1" y="1771.2" width="38.8" height="38.65" fill="#ff2410"/>
<rect x="862.3" y="1771.2" width="38.8" height="38.65" fill="#f95027"/>
<rect x="747.7" y="1809.25" width="38.8" height="38.65" fill="#f2803d"/>
<rect x="785.9" y="1809.25" width="38.8" height="38.65" fill="#f18841"/>
<rect x="824.1" y="1809.25" width="38.8" height="38.65" fill="#f95027"/>
<rect x="862.3" y="1809.25" width="38.8" height="38.65" fill="#ff2410"/>
<g font-size="16.4" fill="#1c0200" fill-opacity=".82" text-anchor="middle">
<text transform="translate(308.6 1262.83) scale(1 1.0377)">1.00</text>
<text transform="translate(346.1 1262.83) scale(1 1.0377)">0.93</text>
<text transform="translate(384.3 1262.83) scale(1 1.0377)">0.97</text>
<text transform="translate(422.5 1262.83) scale(1 1.0377)">0.89</text>
<text transform="translate(308.6 1300.88) scale(1 1.0377)">0.93</text>
<text transform="translate(346.1 1300.88) scale(1 1.0377)">1.00</text>
<text transform="translate(384.3 1300.88) scale(1 1.0377)">0.93</text>
<text transform="translate(422.5 1300.88) scale(1 1.0377)">0.96</text>
<text transform="translate(308.6 1338.92) scale(1 1.0377)">0.97</text>
<text transform="translate(346.1 1338.92) scale(1 1.0377)">0.93</text>
<text transform="translate(384.3 1338.92) scale(1 1.0377)">1.00</text>
<text transform="translate(422.5 1338.92) scale(1 1.0377)">0.91</text>
<text transform="translate(308.6 1376.97) scale(1 1.0377)">0.89</text>
<text transform="translate(346.1 1376.97) scale(1 1.0377)">0.96</text>
<text transform="translate(384.3 1376.97) scale(1 1.0377)">0.91</text>
<text transform="translate(422.5 1376.97) scale(1 1.0377)">1.00</text>
<text transform="translate(459.5 1415.02) scale(1 1.0377)">1.00</text>
<text transform="translate(498.3 1415.02) scale(1 1.0377)">0.86</text>
<text transform="translate(535.6 1415.02) scale(1 1.0377)">0.95</text>
<text transform="translate(573.8 1415.02) scale(1 1.0377)">0.84</text>
<text transform="translate(459.5 1453.07) scale(1 1.0377)">0.86</text>
<text transform="translate(498.3 1453.07) scale(1 1.0377)">1.00</text>
<text transform="translate(535.6 1453.07) scale(1 1.0377)">0.86</text>
<text transform="translate(573.8 1453.07) scale(1 1.0377)">0.80</text>
<text transform="translate(459.5 1491.12) scale(1 1.0377)">0.95</text>
<text transform="translate(498.3 1491.12) scale(1 1.0377)">0.86</text>
<text transform="translate(535.6 1491.12) scale(1 1.0377)">1.00</text>
<text transform="translate(573.8 1491.12) scale(1 1.0377)">0.78</text>
<text transform="translate(459.5 1529.17) scale(1 1.0377)">0.84</text>
<text transform="translate(498.3 1529.17) scale(1 1.0377)">0.80</text>
<text transform="translate(535.6 1529.17) scale(1 1.0377)">0.78</text>
<text transform="translate(573.8 1529.17) scale(1 1.0377)">1.00</text>
<text transform="translate(612.9 1567.22) scale(1 1.0377)">1.00</text>
<text transform="translate(650.8 1567.22) scale(1 1.0377)">0.93</text>
<text transform="translate(689.9 1567.22) scale(1 1.0377)">0.81</text>
<text transform="translate(727.5 1567.22) scale(1 1.0377)">0.61</text>
<text transform="translate(612.9 1605.27) scale(1 1.0377)">0.93</text>
<text transform="translate(650.8 1605.27) scale(1 1.0377)">1.00</text>
<text transform="translate(689.9 1605.27) scale(1 1.0377)">0.90</text>
<text transform="translate(727.5 1605.27) scale(1 1.0377)">0.63</text>
<text transform="translate(612.9 1643.32) scale(1 1.0377)">0.81</text>
<text transform="translate(650.8 1643.32) scale(1 1.0377)">0.90</text>
<text transform="translate(689.9 1643.32) scale(1 1.0377)">1.00</text>
<text transform="translate(727.5 1643.32) scale(1 1.0377)">0.72</text>
<text transform="translate(612.9 1681.38) scale(1 1.0377)">0.61</text>
<text transform="translate(650.8 1681.38) scale(1 1.0377)">0.63</text>
<text transform="translate(689.9 1681.38) scale(1 1.0377)">0.72</text>
<text transform="translate(727.5 1681.38) scale(1 1.0377)">1.00</text>
<text transform="translate(764.5 1719.42) scale(1 1.0377)">1.00</text>
<text transform="translate(803 1719.42) scale(1 1.0377)">0.80</text>
<text transform="translate(842.7 1719.42) scale(1 1.0377)">0.74</text>
<text transform="translate(879.4 1719.42) scale(1 1.0377)">0.68</text>
<text transform="translate(764.5 1757.47) scale(1 1.0377)">0.80</text>
<text transform="translate(803 1757.47) scale(1 1.0377)">1.00</text>
<text transform="translate(842.7 1757.47) scale(1 1.0377)">0.89</text>
<text transform="translate(879.4 1757.47) scale(1 1.0377)">0.66</text>
<text transform="translate(764.5 1795.52) scale(1 1.0377)">0.74</text>
<text transform="translate(803 1795.52) scale(1 1.0377)">0.89</text>
<text transform="translate(842.7 1795.52) scale(1 1.0377)">1.00</text>
<text transform="translate(879.4 1795.52) scale(1 1.0377)">0.80</text>
<text transform="translate(764.5 1833.57) scale(1 1.0377)">0.68</text>
<text transform="translate(803 1833.57) scale(1 1.0377)">0.66</text>
<text transform="translate(842.7 1833.57) scale(1 1.0377)">0.80</text>
<text transform="translate(879.4 1833.57) scale(1 1.0377)">1.00</text>
</g>
<rect x="289.7" y="1227.7" width="153.4" height="9.2" fill="#cf2eea"/>
<rect x="442.7" y="1227.7" width="154.4" height="9.2" fill="#42a423"/>
<rect x="596.7" y="1227.7" width="149.3" height="9.2" fill="#f48ae6"/>
<rect x="745.6" y="1227.7" width="149" height="9.2" fill="#91c5fb"/>
<rect x="279" y="1239" width="8.3" height="151.9" fill="#cf2eea"/>
<rect x="279" y="1390.5" width="8.3" height="151.7" fill="#42a423"/>
<rect x="279" y="1541.8" width="8.3" height="154.6" fill="#f48ae6"/>
<rect x="279" y="1696" width="8.3" height="147.5" fill="#91c5fb"/>
<rect x="289.95" y="1238.4" width="610.2" height="609.15" fill="none" stroke="#000" stroke-width="5.7"/>
<linearGradient id="gb" x1="0" y1="0" x2="0" y2="1"><stop offset="0" stop-color="#ff2410"/><stop offset="0.25" stop-color="#ff2c15"/><stop offset="0.5" stop-color="#f94e26"/><stop offset="0.75" stop-color="#f37538"/><stop offset="1" stop-color="#ef9c4b"/></linearGradient>
<rect x="976.2" y="1238.7" width="76.6" height="608.8" fill="url(#gb)" stroke="#000" stroke-width="5.5"/>
<path d="M976.2 1395.3h14M1052.8 1395.3h-14M976.2 1551.6h14M1052.8 1551.6h-14M976.2 1707.7h14M1052.8 1707.7h-14" stroke="#000" stroke-width="6" fill="none"/>
<text transform="translate(1078.8 1254.5) scale(1 1.0377)" font-size="49.6">1.0</text>
<text transform="translate(1078.8 1411.1) scale(1 1.0377)" font-size="49.6">0.9</text>
<text transform="translate(1078.8 1567.4) scale(1 1.0377)" font-size="49.6">0.8</text>
<text transform="translate(1078.8 1723.5) scale(1 1.0377)" font-size="49.6">0.7</text>
<rect x="1218.2" y="994.4" width="29.3" height="22.1" fill="#cf2eea" stroke="#a01fb8" stroke-width="1" stroke-opacity=".8"/>
<text transform="translate(1264.7 1017.5) scale(1 1.0377)" font-size="33.57" font-weight="bold">CASPR labeled AD humans</text>
<rect x="1218.2" y="1036.4" width="29.3" height="22.1" fill="#42a423" stroke="#2f7f18" stroke-width="1" stroke-opacity=".8"/>
<text transform="translate(1264.7 1059.5) scale(1 1.0377)" font-size="33.57" font-weight="bold">no antibody labeled AD humans</text>
<rect x="1218.2" y="1081.9" width="29.3" height="22.1" fill="#f48ae6" stroke="#cc6cc0" stroke-width="1" stroke-opacity=".8"/>
<text transform="translate(1264.7 1104.6) scale(1 1.0377)" font-size="33.57" font-weight="bold">CASPR labeled unaffected humans</text>
<rect x="1218.2" y="1127.7" width="29.3" height="22.1" fill="#91c5fb" stroke="#74a4d6" stroke-width="1" stroke-opacity=".8"/>
<text transform="translate(1264.7 1147.2) scale(1 1.0377)" font-size="33.57" font-weight="bold">no antibody labeled controls</text>
<text transform="translate(2.8 1940.4) scale(1 1.0377)" font-size="39.4">C</text>
<text transform="translate(273.4 1941.1) scale(1 1.0377)" font-size="33.63" font-weight="bold">Paranode proteomics correlation analysis</text>
<g font-size="30.4" font-weight="bold">
<text transform="translate(436.9 2130.6) rotate(-90) scale(1 1.0377)">5XFAD #1</text>
<text transform="translate(481.77 2130.6) rotate(-90) scale(1 1.0377)">5XFAD #2</text>
<text transform="translate(526.64 2130.6) rotate(-90) scale(1 1.0377)">5XFAD #3</text>
<text transform="translate(571.51 2130.6) rotate(-90) scale(1 1.0377)">5XFAD #1</text>
<text transform="translate(616.38 2130.6) rotate(-90) scale(1 1.0377)">5XFAD #2</text>
<text transform="translate(661.25 2130.6) rotate(-90) scale(1 1.0377)">5XFAD #3</text>
<text transform="translate(706.12 2130.6) rotate(-90) scale(1 1.0377)">WT #1</text>
<text transform="translate(750.99 2130.6) rotate(-90) scale(1 1.0377)">WT #2</text>
<text transform="translate(795.86 2130.6) rotate(-90) scale(1 1.0377)">WT #3</text>
<text transform="translate(388.8 2189.2) scale(1 1.0377)" font-size="30.7" text-anchor="end">5XFAD #1</text>
<text transform="translate(388.8 2233.9) scale(1 1.0377)" font-size="30.7" text-anchor="end">5XFAD #2</text>
<text transform="translate(388.8 2278.6) scale(1 1.0377)" font-size="30.7" text-anchor="end">5XFAD #3</text>
<text transform="translate(388.8 2323.3) scale(1 1.0377)" font-size="30.7" text-anchor="end">5XFAD #1</text>
<text transform="translate(388.8 2368) scale(1 1.0377)" font-size="30.7" text-anchor="end">5XFAD #2</text>
<text transform="translate(388.8 2412.7) scale(1 1.0377)" font-size="30.7" text-anchor="end">5XFAD #3</text>
<text transform="translate(388.8 2457.4) scale(1 1.0377)" font-size="30.7" text-anchor="end">WT #1</text>
<text transform="translate(388.8 2502.1) scale(1 1.0377)" font-size="30.7" text-anchor="end">WT #2</text>
<text transform="translate(388.8 2546.8) scale(1 1.0377)" font-size="30.7" text-anchor="end">WT #3</text>
</g>
<path d="M425.5 2138v10M470.3 2138v10M515.1 2138v10M559.9 2138v10M604.7 2138v10M649.5 2138v10M694.3 2138v10M739.1 2138v10M783.9 2138v10" stroke="#000" stroke-width="3.3" fill="none"/>
<rect x="403" y="2155.8" width="403.2" height="403.2" fill="#9a9a9a"/>
<path d="M447.8 2155.8V2559M403 2200.6H806.2M492.6 2155.8V2559M403 2245.4H806.2M537.4 2155.8V2559M403 2290.2H806.2M582.2 2155.8V2559M403 2335H806.2M627 2155.8V2559M403 2379.8H806.2M671.8 2155.8V2559M403 2424.6H806.2M716.6 2155.8V2559M403 2469.4H806.2M761.4 2155.8V2559M403 2514.2H806.2" stroke="#fff" stroke-opacity=".055" stroke-width="1.2" fill="none"/>
<rect x="402.7" y="2155.5" width="45.4" height="45.4" fill="#ff2410"/>
<rect x="447.5" y="2155.5" width="45.4" height="45.4" fill="#fa5721"/>
<rect x="492.3" y="2155.5" width="45.4" height="45.4" fill="#fd3e19"/>
<rect x="402.7" y="2200.3" width="45.4" height="45.4" fill="#fa5721"/>
<rect x="447.5" y="2200.3" width="45.4" height="45.4" fill="#ff2410"/>
<rect x="492.3" y="2200.3" width="45.4" height="45.4" fill="#fa5721"/>
<rect x="402.7" y="2245.1" width="45.4" height="45.4" fill="#fd3e19"/>
<rect x="447.5" y="2245.1" width="45.4" height="45.4" fill="#fa5721"/>
<rect x="492.3" y="2245.1" width="45.4" height="45.4" fill="#ff2410"/>
<rect x="537.1" y="2289.9" width="45.4" height="45.4" fill="#ff2410"/>
<rect x="581.9" y="2289.9" width="45.4" height="45.4" fill="#fd3e19"/>
<rect x="626.7" y="2289.9" width="45.4" height="45.4" fill="#fd3e19"/>
<rect x="537.1" y="2334.7" width="45.4" height="45.4" fill="#fd3e19"/>
<rect x="581.9" y="2334.7" width="45.4" height="45.4" fill="#ff2410"/>
<rect x="626.7" y="2334.7" width="45.4" height="45.4" fill="#fd3e19"/>
<rect x="537.1" y="2379.5" width="45.4" height="45.4" fill="#fd3e19"/>
<rect x="581.9" y="2379.5" width="45.4" height="45.4" fill="#fd3e19"/>
<rect x="626.7" y="2379.5" width="45.4" height="45.4" fill="#ff2410"/>
<rect x="671.5" y="2424.3" width="45.4" height="45.4" fill="#ff2410"/>
<rect x="716.3" y="2424.3" width="45.4" height="45.4" fill="#fd3e19"/>
<rect x="761.1" y="2424.3" width="45.4" height="45.4" fill="#f4812d"/>
<rect x="671.5" y="2469.1" width="45.4" height="45.4" fill="#fd3e19"/>
<rect x="716.3" y="2469.1" width="45.4" height="45.4" fill="#ff2410"/>
<rect x="761.1" y="2469.1" width="45.4" height="45.4" fill="#f4812d"/>
<rect x="671.5" y="2513.9" width="45.4" height="45.4" fill="#f4812d"/>
<rect x="716.3" y="2513.9" width="45.4" height="45.4" fill="#f4812d"/>
<rect x="761.1" y="2513.9" width="45.4" height="45.4" fill="#ff2410"/>
<g font-size="16.4" fill="#1c0200" fill-opacity=".82" text-anchor="middle">
<text transform="translate(425.4 2184.6) scale(1 1.0377)">1.00</text>
<text transform="translate(470.2 2184.6) scale(1 1.0377)">0.98</text>
<text transform="translate(515 2184.6) scale(1 1.0377)">0.99</text>
<text transform="translate(425.4 2227.7) scale(1 1.0377)">0.98</text>
<text transform="translate(470.2 2227.7) scale(1 1.0377)">1.00</text>
<text transform="translate(515 2227.7) scale(1 1.0377)">0.98</text>
<text transform="translate(425.4 2272.8) scale(1 1.0377)">0.99</text>
<text transform="translate(470.2 2272.8) scale(1 1.0377)">0.98</text>
<text transform="translate(515 2272.8) scale(1 1.0377)">1.00</text>
<text transform="translate(559.8 2318.4) scale(1 1.0377)">1.00</text>
<text transform="translate(604.6 2318.4) scale(1 1.0377)">0.99</text>
<text transform="translate(649.4 2318.4) scale(1 1.0377)">0.99</text>
<text transform="translate(559.8 2363.3) scale(1 1.0377)">0.99</text>
<text transform="translate(604.6 2363.3) scale(1 1.0377)">1.00</text>
<text transform="translate(649.4 2363.3) scale(1 1.0377)">0.99</text>
<text transform="translate(559.8 2407.2) scale(1 1.0377)">0.99</text>
<text transform="translate(604.6 2407.2) scale(1 1.0377)">0.99</text>
<text transform="translate(649.4 2407.2) scale(1 1.0377)">1.00</text>
<text transform="translate(694.2 2452.8) scale(1 1.0377)">1.00</text>
<text transform="translate(739 2452.8) scale(1 1.0377)">0.99</text>
<text transform="translate(783.8 2452.8) scale(1 1.0377)">0.98</text>
<text transform="translate(694.2 2497.2) scale(1 1.0377)">0.99</text>
<text transform="translate(739 2497.2) scale(1 1.0377)">1.00</text>
<text transform="translate(783.8 2497.2) scale(1 1.0377)">0.98</text>
<text transform="translate(694.2 2542.8) scale(1 1.0377)">0.98</text>
<text transform="translate(739 2542.8) scale(1 1.0377)">0.98</text>
<text transform="translate(783.8 2542.8) scale(1 1.0377)">1.00</text>
</g>
<rect x="404.4" y="2147.3" width="134" height="8" fill="#cf2eea"/>
<rect x="538" y="2147.3" width="135.5" height="8" fill="#42a423"/>
<rect x="673.1" y="2147.3" width="129.9" height="8" fill="#f48ae6"/>
<rect x="394.3" y="2157" width="6.8" height="134" fill="#cf2eea"/>
<rect x="394.3" y="2290.6" width="6.8" height="133.6" fill="#42a423"/>
<rect x="394.3" y="2423.8" width="6.8" height="135" fill="#f48ae6"/>
<rect x="402.9" y="2156" width="403.8" height="402.8" fill="none" stroke="#000" stroke-width="4.2"/>
<linearGradient id="gc" x1="0" y1="0" x2="0" y2="1"><stop offset="0" stop-color="#ff2410"/><stop offset="0.25" stop-color="#ff2e14"/><stop offset="0.5" stop-color="#fc461c"/><stop offset="0.75" stop-color="#f86424"/><stop offset="1" stop-color="#f3862e"/></linearGradient>
<rect x="856.9" y="2155.9" width="50.8" height="402.7" fill="url(#gc)" stroke="#000" stroke-width="3.7"/>
<path d="M856.9 2240h9.8M907.7 2240h-9.8M856.9 2324h9.8M907.7 2324h-9.8M856.9 2407.9h9.8M907.7 2407.9h-9.8M856.9 2491.8h9.8M907.7 2491.8h-9.8" stroke="#000" stroke-width="3.5" fill="none"/>
<text transform="translate(925.2 2166.6) scale(1 1.0377)" font-size="32.7">1.000</text>
<text transform="translate(925.2 2250.5) scale(1 1.0377)" font-size="32.7">0.995</text>
<text transform="translate(925.2 2334.5) scale(1 1.0377)" font-size="32.7">0.990</text>
<text transform="translate(925.2 2418.4) scale(1 1.0377)" font-size="32.7">0.985</text>
<text transform="translate(925.2 2502.3) scale(1 1.0377)" font-size="32.7">0.980</text>
<rect x="1216.8" y="1942.8" width="29.5" height="22.1" fill="#cf2eea" stroke="#a01fb8" stroke-width="1" stroke-opacity=".8"/>
<text transform="translate(1263.3 1965.7) scale(1 1.0377)" font-size="33.57" font-weight="bold">CASPR labeled 5XFAD mice</text>
<rect x="1216.8" y="1984.6" width="29.5" height="22.1" fill="#42a423" stroke="#2f7f18" stroke-width="1" stroke-opacity=".8"/>
<text transform="translate(1263.3 2007.8) scale(1 1.0377)" font-size="33.57" font-weight="bold">no antibody labeled 5XFAD mice</text>
<rect x="1216.8" y="2030.1" width="29.5" height="22.1" fill="#f48ae6" stroke="#cc6cc0" stroke-width="1" stroke-opacity=".8"/>
<text transform="translate(1263.3 2052.9) scale(1 1.0377)" font-size="33.57" font-weight="bold">CASPR labeled WT mice</text>
</svg>
</body></html>
